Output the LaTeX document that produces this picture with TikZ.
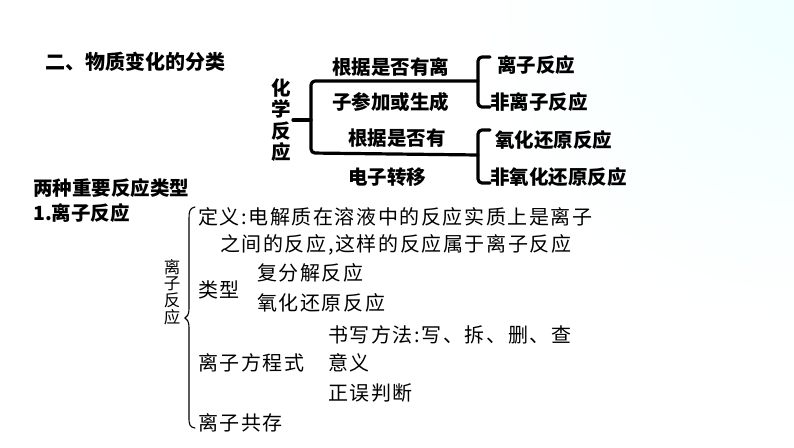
\documentclass[tikz,border=0pt]{standalone}
\usepackage{fontspec}
\newfontfamily\cjk{Noto Sans CJK SC}
\newfontfamily\cjkthin{Noto Sans CJK SC}[LetterSpace=8]
\begin{document}
\begin{tikzpicture}[x=1pt,y=-1pt,
  boldtxt/.style={anchor=west,inner sep=0pt,font=\cjk\bfseries\fontsize{19.5}{22}\selectfont},
  thintxt/.style={anchor=west,inner sep=0pt,font=\cjkthin\fontsize{20}{22}\selectfont},
  bigline/.style={line width=3.2pt,line join=round,line cap=round,rounded corners=4pt},
  thinline/.style={line width=1.1pt,line cap=round}]
\useasboundingbox (0,0) rectangle (794,447);
\begin{scope}
\clip (0,0) rectangle (794,447);
\fill[white] (0,0) rectangle (794,447);
\shade[inner color=cyan!6!white, outer color=white] (794,0) circle (320);
\end{scope}
% title
\node[boldtxt,font=\cjk\bfseries\fontsize{20}{22}\selectfont] (title) at (45,62) {二、物质变化的分类};
% top bracket diagram
\node[inner sep=0pt,align=center,font=\cjk\bfseries\fontsize{19.5}{21.5}\selectfont] (hx) at (281,120) {化\\学\\反\\应};
\node[boldtxt] (c1a) at (332,67) {根据是否有离};
\node[boldtxt] (c1b) at (332,102) {子参加或生成};
\node[boldtxt] (c2a) at (348,138) {根据是否有};
\node[boldtxt] (c2b) at (348,177) {电子转移};
\node[boldtxt] (r1) at (497,65) {离子反应};
\node[boldtxt] (r2) at (490,102) {非离子反应};
\node[boldtxt] (r3) at (495,140) {氧化还原反应};
\node[boldtxt] (r4) at (490,177) {非氧化还原反应};
\coordinate (stubL) at (293,120);
\coordinate (stubR) at (311,120);
\coordinate (mainT) at (311,81);
\coordinate (mainB) at (311,153);
\coordinate (j1) at (478,81);
\coordinate (j2) at (478,155);
\draw[bigline] (stubL) -- (stubR);
\draw[bigline] (j1) -- (mainT) -- (mainB) -- (j2);
\draw[bigline] (490,57) -- (478,57) -- (478,107) -- (490,107);
\draw[bigline] (490,130) -- (478,130) -- (478,183) -- (490,183);
% lower part
\node[boldtxt] (sub) at (33,188) {两种重要反应类型};
\node[boldtxt] (sub1) at (33,213) {1.离子反应};
\node[inner sep=0pt,align=center,font=\cjk\fontsize{16.5}{16.7}\selectfont] (lzfy) at (172,292) {离\\子\\反\\应};
\coordinate (bt) at (195,207);
\coordinate (bm) at (185,318);
\coordinate (bb) at (195,428);
\draw[thinline] (bt) .. controls (190,208) and (189,211) .. (189,218) -- (189,308)
  .. controls (189,315) and (187,317) .. (bm)
  .. controls (187,319) and (189,321) .. (189,328) -- (189,418)
  .. controls (189,425) and (190,427) .. (bb);
\node[thintxt] (def1) at (198,217) {定义:电解质在溶液中的反应实质上是离子};
\node[thintxt] (def2) at (220,245) {之间的反应,这样的反应属于离子反应};
\node[thintxt] (lx) at (198,290) {类型};
\node[thintxt] (lx1) at (257,273) {复分解反应};
\node[thintxt] (lx2) at (257,303) {氧化还原反应};
\node[thintxt] (fc1) at (328,335) {书写方法:写、拆、删、查};
\node[thintxt] (fc) at (198,363) {离子方程式};
\node[thintxt] (fc2) at (328,363) {意义};
\node[thintxt] (fc3) at (328,393) {正误判断};
\node[thintxt] (gc) at (198,423) {离子共存};
\end{tikzpicture}
\end{document}
